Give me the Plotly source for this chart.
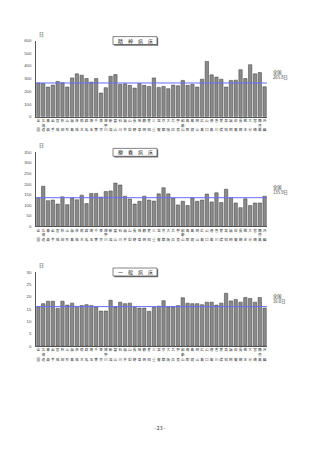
import plotly.graph_objects as go

prefs = ["全国","北海道","青森","岩手","宮城","秋田","山形","福島","茨城","栃木","群馬","埼玉","千葉","東京","神奈川",
         "新潟","富山","石川","福井","山梨","長野","岐阜","静岡","愛知","三重","滋賀","京都","大阪","兵庫","奈良","和歌山",
         "鳥取","島根","岡山","広島","山口","徳島","香川","愛媛","高知","福岡","佐賀","長崎","熊本","大分","宮崎","鹿児島","沖縄"]

seishin = [265.8,262,234,249,278,268,234,306,338,327,301,273,301,187,229,
           319,332,255,260,247,226,262,247,239,306,231,239,221,249,244,286,
           247,255,234,296,436,330,312,296,234,286,288,371,301,410,338,348,236]
ryoyo = [135.9,190,122,125,106,140,103,134,126,148,108,156,156,139,165,
         168,205,196,143,130,106,119,143,125,120,154,183,154,134,102,119,
         99,134,119,125,153,116,159,113,176,136,111,89,131,99,111,111,143]
ippan = [16.0,17.2,18.2,18.2,15.3,18.2,16.6,17.4,16.1,16.4,16.8,16.4,15.8,14.2,14.2,
         18.6,15.8,17.8,17.2,17.4,15.7,15.4,15.4,14.1,15.7,16.2,18.4,15.8,15.9,16.4,19.6,
         17.4,17.2,17.2,16.8,17.8,17.8,16.6,17.4,21.4,18.3,18.9,17.8,19.7,19.3,17.8,19.7,15.4]

panels = [
    dict(title="精　神　病　床", vals=seishin, avg=265.8, avg_label="全国<br>265.8日", ymax=600, dtick=100),
    dict(title="療　養　病　床", vals=ryoyo, avg=135.9, avg_label="全国<br>135.9日", ymax=350, dtick=50),
    dict(title="一　般　病　床", vals=ippan, avg=16.0, avg_label="全国<br>16.0日", ymax=30, dtick=5),
]

W, H = 320, 453
def py(pix):
    return 1 - pix / H
def px(pix):
    return pix / W

ypix = [(116, 39), (227, 152), (348, 273)]
x0p, x1p = 36, 267

def vlabel(name):
    if len(name) == 2:
        return name[0] + "<br> <br>" + name[1]
    return "<br>".join(name)

ticktext = [vlabel(n) for n in prefs]

fig = go.Figure()
shapes = []
annotations = []
for i, p in enumerate(panels):
    ax = "" if i == 0 else str(i + 1)
    fig.add_trace(go.Bar(
        x=list(range(len(prefs))), y=p["vals"], xaxis="x" + ax, yaxis="y" + ax,
        marker=dict(color="#8a8a8a", line=dict(color="#3a3a3a", width=0.5)),
        showlegend=False, hoverinfo="skip"))
    zero, top = ypix[i]
    fig.layout["xaxis" + ax] = dict(
        domain=[px(x0p), px(x1p)], anchor="y" + ax, range=[-0.5, len(prefs) - 0.5],
        tickmode="array", tickvals=list(range(len(prefs))), ticktext=ticktext,
        tickangle=0, tickfont=dict(size=3.6, color="#333333", family="Noto Sans CJK JP"),
        showline=True, linecolor="#555555", linewidth=0.6, ticks="", showgrid=False,
        zeroline=False, ticklen=0)
    fig.layout["yaxis" + ax] = dict(
        domain=[py(zero), py(top)], anchor="x" + ax, range=[0, p["ymax"]],
        dtick=p["dtick"], tickfont=dict(size=4.3, color="#444444", family="Liberation Sans"),
        showline=True, linecolor="#555555", linewidth=0.6, ticks="", showgrid=False,
        zeroline=False, ticklabelstandoff=3)
    shapes.append(dict(type="line", xref="x" + ax + " domain", yref="y" + ax,
                       x0=0, x1=1, y0=p["avg"], y1=p["avg"],
                       line=dict(color="#6a6aff", width=1)))
    annotations.append(dict(text=p["avg_label"], xref="paper", yref="y" + ax,
                            x=px(271), y=p["avg"], xanchor="left", yanchor="bottom",
                            showarrow=False, align="left",
                            font=dict(size=4.2, color="#333333", family="Noto Sans CJK JP")))
    annotations.append(dict(text="日", xref="paper", yref="paper", x=px(37), y=py(top - 1),
                            xanchor="left", yanchor="bottom", showarrow=False,
                            font=dict(size=4.8, color="#333333", family="Noto Sans CJK JP")))
    bx0, by0, bw = 113, top - 4, 44
    shapes.append(dict(type="rect", xref="paper", yref="paper",
                       x0=px(bx0 + 1.2), x1=px(bx0 + bw + 1.2), y0=py(by0 + 9.2), y1=py(by0 + 1.2),
                       fillcolor="#777777", line=dict(width=0), layer="below"))
    shapes.append(dict(type="rect", xref="paper", yref="paper",
                       x0=px(bx0), x1=px(bx0 + bw), y0=py(by0 + 8), y1=py(by0),
                       fillcolor="white", line=dict(color="#333333", width=0.6), layer="below"))
    annotations.append(dict(text=p["title"], xref="paper", yref="paper",
                            x=px(bx0 + bw / 2), y=py(by0 + 4), xanchor="center", yanchor="middle",
                            showarrow=False,
                            font=dict(size=5, color="#222222", family="Noto Sans CJK JP")))

annotations.append(dict(text="- 23 -", xref="paper", yref="paper", x=0.5, y=py(430),
                        xanchor="center", yanchor="middle", showarrow=False,
                        font=dict(size=5, color="#333333", family="Noto Sans CJK JP")))

fig.update_layout(width=W, height=H, margin=dict(l=0, r=0, t=0, b=0),
                  paper_bgcolor="white", plot_bgcolor="white", bargap=0.3,
                  shapes=shapes, annotations=annotations)
fig.write_html("out.html")
